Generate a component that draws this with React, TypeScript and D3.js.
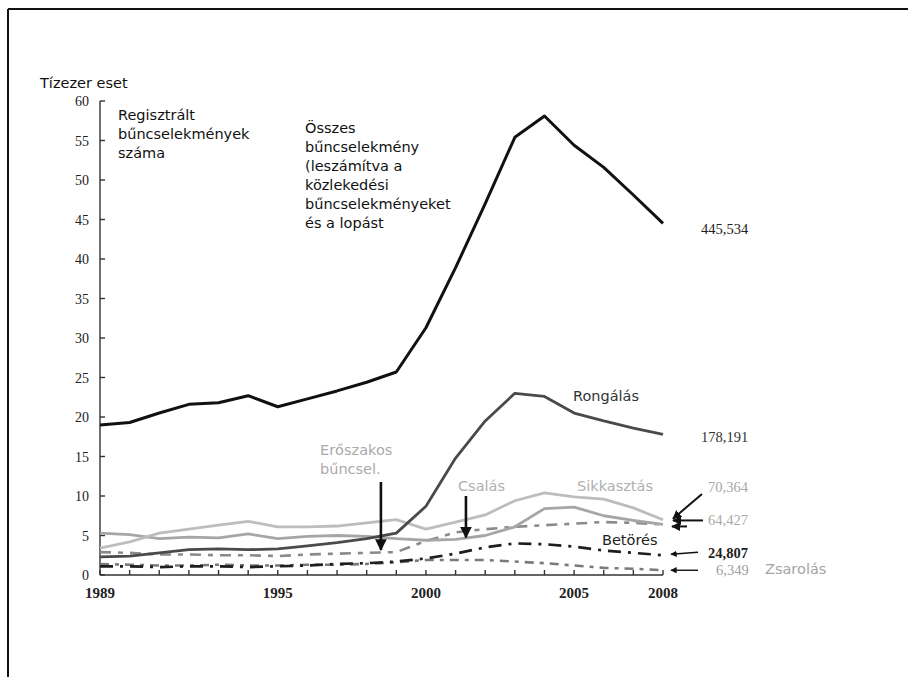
import * as d3 from "d3";

// years on the x axis, one point per year
const years = [
  1989, 1990, 1991, 1992, 1993, 1994, 1995, 1996, 1997, 1998, 1999, 2000,
  2001, 2002, 2003, 2004, 2005, 2006, 2007, 2008,
];

// values in ten-thousand cases (tízezer eset)
const total = [
  19.0, 19.3, 20.5, 21.6, 21.8, 22.7, 21.3, 22.3, 23.3, 24.4, 25.7, 31.3,
  38.9, 47.0, 55.4, 58.1, 54.4, 51.6, 48.1, 44.5,
];
const rongalas = [
  2.3, 2.4, 2.8, 3.2, 3.3, 3.2, 3.3, 3.7, 4.1, 4.6, 5.3, 8.7, 14.8, 19.5,
  23.0, 22.6, 20.5, 19.5, 18.6, 17.8,
];
const sikkasztas = [
  3.4, 4.2, 5.3, 5.8, 6.3, 6.8, 6.1, 6.1, 6.2, 6.6, 7.0, 5.8, 6.7, 7.6, 9.4,
  10.4, 9.9, 9.6, 8.5, 7.0,
];
const csalas = [
  5.3, 5.1, 4.6, 4.8, 4.7, 5.2, 4.6, 4.9, 5.0, 4.9, 4.6, 4.4, 4.5, 5.0, 6.1,
  8.4, 8.6, 7.5, 6.9, 6.4,
];
const eroszakos = [
  2.9, 2.8, 2.6, 2.6, 2.5, 2.5, 2.4, 2.6, 2.7, 2.8, 2.9, 4.3, 5.4, 5.8, 6.1,
  6.3, 6.5, 6.7, 6.6, 6.4,
];
const betores = [
  1.1, 1.1, 1.0, 1.1, 1.1, 1.0, 1.1, 1.2, 1.4, 1.5, 1.7, 2.1, 2.7, 3.5, 4.0,
  3.9, 3.6, 3.1, 2.8, 2.5,
];
const zsarolas = [
  1.4, 1.3, 1.2, 1.2, 1.3, 1.2, 1.2, 1.3, 1.3, 1.4, 1.6, 1.9, 1.9, 1.9, 1.7,
  1.5, 1.2, 0.9, 0.8, 0.6,
];

const yTicks = [0, 5, 10, 15, 20, 25, 30, 35, 40, 45, 50, 55, 60];
const xLabelYears = [1989, 1995, 2000, 2005, 2008];

// 2008 counts written to the right of the line ends
const endLabels = ["445,534", "178,191", "70,364", "64,427", "24,807", "6,349"];

const width = 908;
const height = 677;

const sans = "'DejaVu Sans', 'Open Sans', sans-serif";
const serif = "'Liberation Serif', 'DejaVu Serif', serif";

const x = d3.scaleLinear([1989, 2008], [100, 663]);
const y = d3.scaleLinear([0, 60], [575, 101]);

type Series = {
  values: number[];
  color: string;
  width: number;
  dash?: string;
};

// drawn bottom first so the totals sit on top
const series: Series[] = [
  { values: zsarolas, color: "#7a7a7a", width: 2.6, dash: "9,6,4,6" },
  { values: betores, color: "#1e1e1e", width: 2.7, dash: "13,7,3,7" },
  { values: eroszakos, color: "#8a8a8a", width: 2.6, dash: "11,7,5,7" },
  { values: csalas, color: "#a6a6a6", width: 2.8 },
  { values: sikkasztas, color: "#bdbdbd", width: 2.8 },
  { values: rongalas, color: "#4a4a4a", width: 2.8 },
  { values: total, color: "#111", width: 3 },
];

const line = d3
  .line<number>()
  .x((_, i) => x(years[i]))
  .y((d) => y(d));

function Arrow({
  x1,
  y1,
  x2,
  y2,
  w = 2,
}: {
  x1: number;
  y1: number;
  x2: number;
  y2: number;
  w?: number;
}) {
  return (
    <line
      x1={x1}
      y1={y1}
      x2={x2}
      y2={y2}
      stroke="#111"
      strokeWidth={w}
      markerEnd="url(#head)"
    />
  );
}

// multi-line label drawn as separate texts, one per line
function Lines({
  lines,
  x0,
  y0,
  fill = "#111",
}: {
  lines: string[];
  x0: number;
  y0: number;
  fill?: string;
}) {
  return (
    <g fill={fill}>
      {lines.map((l, i) => (
        <text key={i} x={x0} y={y0 + i * 19}>
          {l}
        </text>
      ))}
    </g>
  );
}

export default function App() {
  const x08 = x(2008);
  return (
    <div style={{ position: "absolute", left: 0, top: 0 }}>
      <svg width={width} height={height} style={{ display: "block" }}>
        <defs>
          <marker
            id="head"
            viewBox="0 0 10 10"
            refX="9"
            refY="5"
            markerWidth="4.5"
            markerHeight="4.5"
            orient="auto"
          >
            <path d="M0,0 L10,5 L0,10 z" fill="#111" />
          </marker>
        </defs>
        <rect width={width} height={height} fill="#fff" />

        {/* frame of the original picture */}
        <line x1={8} y1={9} x2={width} y2={9} stroke="#111" strokeWidth={2} />
        <line x1={8} y1={9} x2={8} y2={height} stroke="#111" strokeWidth={2} />

        {/* axes */}
        <g stroke="#333" strokeWidth={1.4}>
          <line x1={x(1989)} y1={y(0)} x2={x(1989)} y2={y(60)} />
          <line x1={x(1989)} y1={y(0)} x2={x(2008)} y2={y(0)} />
          {yTicks.map((t) => (
            <line key={t} x1={x(1989)} x2={x(1989) + 5} y1={y(t)} y2={y(t)} />
          ))}
          {years.map((yr) => (
            <line key={yr} x1={x(yr)} x2={x(yr)} y1={y(0)} y2={y(0) - 5} />
          ))}
        </g>
        <g fontFamily={serif} fill="#222">
          {yTicks.map((t) => (
            <text
              key={t}
              x={x(1989) - 11}
              y={y(t) + 5}
              textAnchor="end"
              fontSize={14}
            >
              {t}
            </text>
          ))}
          {xLabelYears.map((yr) => (
            <text
              key={yr}
              x={x(yr)}
              y={y(0) + 23}
              textAnchor="middle"
              fontWeight="bold"
              fontSize={15}
            >
              {yr}
            </text>
          ))}
        </g>

        {/* lines */}
        <g fill="none" strokeLinejoin="round">
          {series.map((s, i) => (
            <path
              key={i}
              d={line(s.values) ?? ""}
              stroke={s.color}
              strokeWidth={s.width}
              strokeDasharray={s.dash}
            />
          ))}
        </g>

        {/* annotations */}
        <g fontFamily={sans} fontSize={14.5} fill="#111">
          <text x={40} y={88}>Tízezer eset</text>
          <Lines
            lines={["Regisztrált", "bűncselekmények", "száma"]}
            x0={118}
            y0={120}
          />
          <Lines
            lines={[
              "Összes",
              "bűncselekmény",
              "(leszámítva a",
              "közlekedési",
              "bűncselekményeket",
              "és a lopást",
            ]}
            x0={305}
            y0={133}
          />
          <text x={573} y={401} fill="#333">
            Rongálás
          </text>
          <Lines
            lines={["Erőszakos", "bűncsel."]}
            x0={320}
            y0={455}
            fill="#aaa"
          />
          <text x={458} y={491} fill="#b0b0b0">
            Csalás
          </text>
          <text x={577} y={491} fill="#b0b0b0">
            Sikkasztás
          </text>
          <text x={602} y={545} fill="#222">
            Betörés
          </text>
          <text x={765} y={574} fill="#a4a4a4">
            Zsarolás
          </text>
        </g>

        {/* 2008 values */}
        <g fontFamily={serif} fontSize={14.5}>
          <text x={701} y={234} fill="#222">{endLabels[0]}</text>
          <text x={701} y={442} fill="#333">{endLabels[1]}</text>
          <text x={708} y={492} fill="#a8a8a8">{endLabels[2]}</text>
          <text x={708} y={525} fill="#a8a8a8">{endLabels[3]}</text>
          <text x={708} y={558} fill="#222" fontWeight="bold">{endLabels[4]}</text>
          <text x={716} y={575} fill="#a0a0a0">{endLabels[5]}</text>
        </g>

        {/* pointer arrows */}
        <Arrow x1={x(1998.48)} y1={482} x2={x(1998.48)} y2={y(eroszakos[9]) - 3} w={2.6} />
        <Arrow x1={x(2001.35)} y1={496} x2={x(2001.35)} y2={y(csalas[12]) - 2} w={2.6} />
        <Arrow x1={x08 + 39} y1={494} x2={x08 + 10} y2={y(sikkasztas[19]) - 1} />
        <Arrow x1={x08 + 40} y1={y(csalas[19]) - 4} x2={x08 + 10} y2={y(csalas[19]) - 4} />
        <Arrow x1={x08 + 24} y1={y(eroszakos[19]) + 2} x2={x08 + 9} y2={y(eroszakos[19]) + 2} />
        <Arrow x1={x08 + 35} y1={y(betores[19]) - 3} x2={x08 + 8} y2={y(betores[19]) - 1} w={1.4} />
        <Arrow x1={x08 + 35} y1={y(zsarolas[19])} x2={x08 + 8} y2={y(zsarolas[19])} w={1.4} />
      </svg>
    </div>
  );
}
